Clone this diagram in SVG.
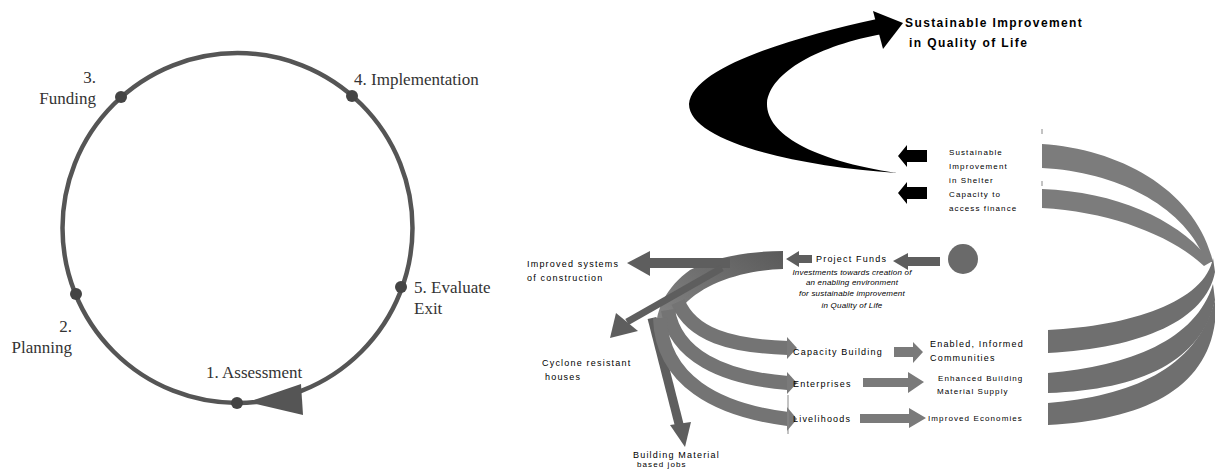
<svg xmlns="http://www.w3.org/2000/svg" width="1215" height="470" viewBox="0 0 1215 470">
  <style>
    .serif { font-family: "Liberation Serif", "Times New Roman", serif; font-size: 17px; fill: #333; }
    .lbl { font-family: "Liberation Sans", Arial, sans-serif; font-size: 9px; letter-spacing: 1.2px; fill: #000; }
    .sm { font-family: "Liberation Sans", Arial, sans-serif; font-size: 8px; letter-spacing: 1.1px; fill: #000; }
    .it { font-family: "Liberation Sans", Arial, sans-serif; font-size: 8px; font-style: italic; letter-spacing: 0.2px; fill: #000; text-anchor: middle; }
    .title { font-family: "Liberation Sans", Arial, sans-serif; font-size: 12px; font-weight: bold; letter-spacing: 1.4px; fill: #000; }
    .ring { fill: none; stroke: #555; stroke-width: 4.5; }
    .dot { fill: #444; }
    .band { fill: #7c7c7c; }
    .bandDark { fill: #6f6f6f; }
    .arrLight { fill: #7a7a7a; }
    .arrDark { fill: #5e5e5e; }
    .curve { fill: none; stroke: #747474; stroke-width: 14; }
  </style>
  <defs>
    <linearGradient id="fanGrad" x1="1" y1="0" x2="0" y2="1">
      <stop offset="0" stop-color="#5a5a5a"/>
      <stop offset="1" stop-color="#8a8a8a"/>
    </linearGradient>
  </defs>
  <rect width="1215" height="470" fill="#fff"/>

  <!-- ===== Project cycle (left) ===== -->
  <g id="cycle-connectors">
    <circle class="ring" cx="237.5" cy="228" r="175"/>
    <polygon points="248,402 301,384 303,415" fill="#555"/>
  </g>
  <g id="step-assessment">
    <circle class="dot" cx="237" cy="403" r="6"/>
    <text class="serif" x="206" y="378">1. Assessment</text>
  </g>
  <g id="step-planning">
    <circle class="dot" cx="76" cy="294" r="6"/>
    <text class="serif" x="72" y="332" text-anchor="end">2.</text>
    <text class="serif" x="72" y="353" text-anchor="end">Planning</text>
  </g>
  <g id="step-funding">
    <circle class="dot" cx="121" cy="97" r="6"/>
    <text class="serif" x="96" y="83" text-anchor="end">3.</text>
    <text class="serif" x="96" y="104" text-anchor="end">Funding</text>
  </g>
  <g id="step-implementation">
    <circle class="dot" cx="352" cy="96" r="6"/>
    <text class="serif" x="354" y="85">4. Implementation</text>
  </g>
  <g id="step-evaluate">
    <circle class="dot" cx="401" cy="287" r="6"/>
    <text class="serif" x="414" y="293">5. Evaluate</text>
    <text class="serif" x="414" y="314">Exit</text>
  </g>

  <!-- ===== Impact spiral (right) ===== -->
  <g id="connectors">
    <!-- black sweep up to the top goal -->
    <path d="M 877 19 C 790 38, 692 68, 689 104 C 689 140, 790 166, 897 173 C 810 160, 766 133, 767 103 C 770 72, 820 45, 883 34 Z" fill="#000"/>
    <polygon points="873,11 903,23 883,49" fill="#000"/>
    <!-- black outcome arrows -->
    <polygon points="927,150 907,150 907,145 898,156 907,167 907,162 927,162" fill="#000"/>
    <polygon points="927,187 907,187 907,182 898,193 907,204 907,199 927,199" fill="#000"/>

    <!-- right-hand spiral bands -->
    <path class="band" d="M 1042 144 C 1120 149, 1196 190, 1213 262 L 1206 262 C 1186 208, 1120 172, 1042 168 Z"/>
    <path class="band" d="M 1042 189 C 1120 192, 1182 222, 1211 262 L 1204 266 C 1172 236, 1112 212, 1042 208 Z"/>
    <path class="bandDark" d="M 1213 258 C 1205 302, 1130 326, 1048 330 L 1048 353 C 1142 348, 1206 320, 1215 272 Z"/>
    <path class="bandDark" d="M 1213 284 C 1196 340, 1130 366, 1048 373 L 1048 393 C 1142 390, 1202 360, 1215 300 Z"/>
    <path class="bandDark" d="M 1215 300 C 1196 370, 1130 396, 1048 403 L 1048 425 C 1142 420, 1206 390, 1215 322 Z"/>
    <line x1="1042" y1="129" x2="1042" y2="134" stroke="#888" stroke-width="1"/>
    <line x1="1042" y1="181" x2="1042" y2="186" stroke="#888" stroke-width="1"/>

    <!-- funds flow -->
    <polygon class="arrDark" points="940,257 908,257 908,253 893,261 908,270 908,266 940,266"/>
    <polygon class="arrDark" points="812,255 799,255 799,251 786,259 799,267 799,263 812,263"/>
    <path d="M 783 251 L 783 269 C 745 270, 705 282, 684 305 C 672 314, 664 328, 657 345 C 652 318, 662 290, 690 270 C 720 255, 755 251, 783 251 Z" fill="url(#fanGrad)"/>

    <!-- direct results -->
    <path d="M 650 258 L 730 258 L 730 268 L 650 268 Z" class="arrDark"/>
    <polygon class="arrDark" points="650,251 627,263 650,276"/>
    <line x1="627" y1="322" x2="722" y2="268" stroke="#5e5e5e" stroke-width="7"/>
    <polygon class="arrDark" points="610,338 616,313 638,331"/>
    <line x1="652" y1="318" x2="680" y2="428" stroke="#5e5e5e" stroke-width="9"/>
    <polygon class="arrDark" points="670,425 691,422 685,447"/>

    <!-- curved programme arrows -->
    <path class="curve" d="M 678 302 C 692 335, 730 346, 788 348"/>
    <polygon class="arrLight" points="787,337 797,348 787,359"/>
    <path class="curve" d="M 668 310 C 675 355, 722 378, 788 383"/>
    <polygon class="arrLight" points="787,372 797,383 787,394"/>
    <path class="curve" d="M 660 318 C 662 380, 716 410, 788 419" stroke-width="15"/>
    <polygon class="arrLight" points="787,407 797,419 787,431"/>
    <line x1="788" y1="395" x2="788" y2="434" stroke="#888" stroke-width="1"/>

    <!-- outcome arrows -->
    <polygon class="arrLight" points="894,347 913,347 913,342 923,352 913,363 913,357 894,357"/>
    <polygon class="arrLight" points="863,378 908,378 908,372 924,382 908,393 908,387 863,387"/>
    <polygon class="arrLight" points="860,414 909,414 909,408 926,418 909,428 909,423 860,423"/>
  </g>

  <g id="goal">
    <text class="title" x="905" y="27">Sustainable Improvement</text>
    <text class="title" x="909" y="47">in Quality of Life</text>
  </g>
  <g id="shelter-results">
    <text class="sm" x="949" y="155">Sustainable</text>
    <text class="sm" x="949" y="169">Improvement</text>
    <text class="sm" x="949" y="183">in Shelter</text>
    <text class="sm" x="949" y="197">Capacity to</text>
    <text class="sm" x="949" y="211">access finance</text>
  </g>
  <g id="funds-source">
    <circle cx="963" cy="259" r="15" fill="#6a6a6a"/>
  </g>
  <g id="project-funds">
    <text class="lbl" x="816" y="262">Project Funds</text>
    <text class="it" x="852" y="275">Investments towards creation of</text>
    <text class="it" x="852" y="285">an enabling environment</text>
    <text class="it" x="852" y="296">for sustainable improvement</text>
    <text class="it" x="852" y="308">in Quality of Life</text>
  </g>
  <g id="systems">
    <text class="lbl" x="527" y="267">Improved systems</text>
    <text class="lbl" x="527" y="281">of construction</text>
  </g>
  <g id="houses">
    <text class="lbl" x="542" y="366">Cyclone resistant</text>
    <text class="lbl" x="545" y="380">houses</text>
  </g>
  <g id="material-jobs">
    <text class="lbl" x="633" y="458">Building Material</text>
    <text class="sm" x="637" y="467">based jobs</text>
  </g>
  <g id="capacity-building">
    <text class="lbl" x="793" y="355">Capacity Building</text>
  </g>
  <g id="enterprises">
    <text class="lbl" x="793" y="387">Enterprises</text>
  </g>
  <g id="livelihoods">
    <text class="lbl" x="793" y="422">Livelihoods</text>
  </g>
  <g id="communities">
    <text class="lbl" x="930" y="347">Enabled, Informed</text>
    <text class="lbl" x="930" y="361">Communities</text>
  </g>
  <g id="material-supply">
    <text class="sm" x="938" y="381">Enhanced Building</text>
    <text class="sm" x="937" y="394">Material Supply</text>
  </g>
  <g id="economies">
    <text class="sm" x="928" y="421">Improved Economies</text>
  </g>
</svg>
